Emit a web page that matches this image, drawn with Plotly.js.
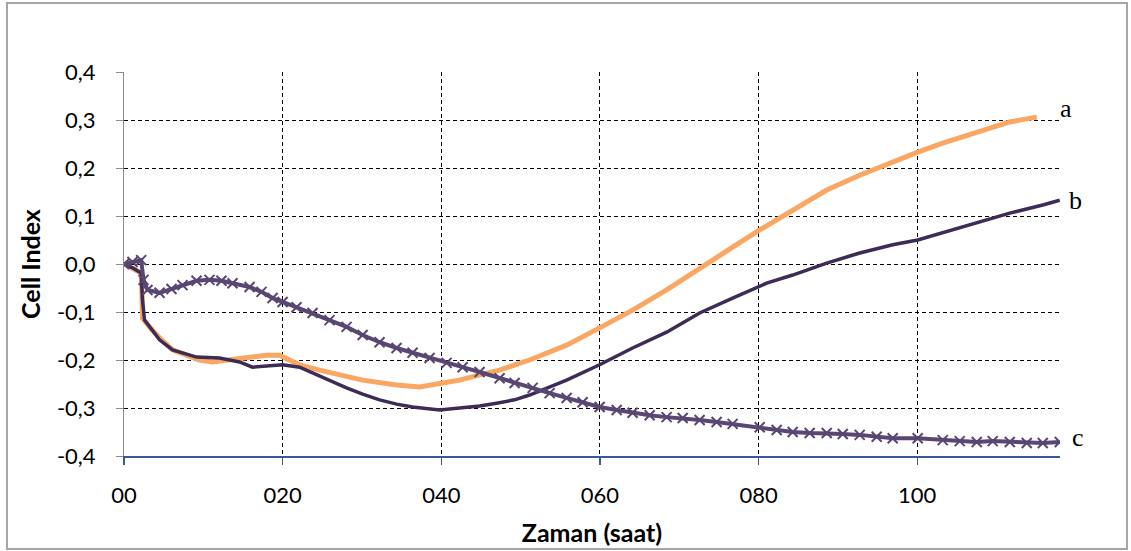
<!DOCTYPE html>
<html>
<head>
<meta charset="utf-8">
<script src="https://cdn.plot.ly/plotly-3.0.1.min.js"></script>
<style>
html,body{margin:0;padding:0;background:#fff;}
#chart{width:1131px;height:551px;}
</style>
</head>
<body>
<div id="chart"></div>
<script>
// Series a (orange)
const aX = [0,1.07,2.17,2.27,2.33,3.22,4.48,6.12,7.88,9.52,11.16,13.68,15.83,17.97,19.61,20.87,22.13,24.65,27.17,30.08,34.36,37.26,40.16,42.31,44.83,47.35,51.13,55.80,59.96,64.12,68.41,72.57,76.73,80.14,84.30,88.59,92.75,96.91,100.06,103.22,107.50,111.67,115.07];
const aY = [0,-0.008,-0.019,-0.065,-0.113,-0.131,-0.154,-0.179,-0.190,-0.200,-0.204,-0.198,-0.194,-0.190,-0.190,-0.200,-0.210,-0.221,-0.231,-0.242,-0.252,-0.256,-0.248,-0.242,-0.231,-0.221,-0.200,-0.169,-0.133,-0.096,-0.054,-0.008,0.035,0.071,0.113,0.154,0.185,0.213,0.233,0.252,0.275,0.296,0.306];
// Series b (dark)
const bX = [0,1.07,2.17,2.33,2.59,3.22,4.48,6.12,9.14,12.04,14.56,16.20,18.35,19.99,22.13,23.77,25.91,28.06,30.08,32.22,34.36,36.38,39.78,42.69,44.83,46.97,49.24,51.13,55.80,59.96,64.12,68.41,72.57,76.73,81.02,84.30,88.59,92.75,96.91,100.06,103.22,107.50,111.67,115.83,117.97];
const bY = [0,-0.008,-0.019,-0.075,-0.117,-0.131,-0.158,-0.179,-0.194,-0.196,-0.204,-0.215,-0.213,-0.210,-0.215,-0.227,-0.244,-0.258,-0.271,-0.283,-0.292,-0.298,-0.304,-0.300,-0.296,-0.290,-0.283,-0.273,-0.242,-0.210,-0.175,-0.142,-0.102,-0.071,-0.040,-0.023,0.002,0.023,0.040,0.050,0.065,0.085,0.106,0.123,0.133];
// Series c (purple, x markers)
const cX = [0,1.07,2.17,2.46,2.96,4.48,5.99,7.38,9.14,10.78,12.29,13.68,15.83,17.34,18.73,19.99,21.75,23.77,25.91,28.06,30.08,32.22,34.36,36.38,38.52,40.67,42.69,44.83,47.35,49.24,51.51,53.66,55.80,57.82,59.96,62.11,64.12,66.27,68.41,70.43,72.57,74.71,76.73,80.14,82.28,84.30,86.44,88.59,90.61,92.75,94.89,96.91,100.06,103.22,105.36,107.50,109.52,111.67,113.81,115.83,117.97];
const cY = [0,0.004,0.008,-0.033,-0.054,-0.060,-0.052,-0.044,-0.035,-0.033,-0.035,-0.040,-0.048,-0.058,-0.071,-0.079,-0.090,-0.102,-0.117,-0.131,-0.148,-0.163,-0.175,-0.185,-0.196,-0.206,-0.215,-0.225,-0.238,-0.248,-0.258,-0.269,-0.279,-0.288,-0.298,-0.304,-0.310,-0.315,-0.319,-0.321,-0.325,-0.329,-0.333,-0.340,-0.346,-0.350,-0.352,-0.352,-0.354,-0.356,-0.360,-0.363,-0.363,-0.367,-0.369,-0.371,-0.369,-0.371,-0.373,-0.373,-0.371];

const seriesLabels = ["a","b","c"];
const xTickVals = [0,20,40,60,80,100];
const xTickText = ["00","020","040","060","080","100"];
const yTickVals = [-0.4,-0.3,-0.2,-0.1,0,0.1,0.2,0.3,0.4];
const yTickText = ["-0,4","-0,3","-0,2","-0,1","0,0","0,1","0,2","0,3","0,4"];

const colA = "#FAA764", colB = "#3D2C55", colC = "#594673";

const traces = [
  {x:aX, y:aY, type:"scatter", mode:"lines", line:{color:colA, width:5}, name:"a"},
  {x:bX, y:bY, type:"scatter", mode:"lines", line:{color:colB, width:3.5}, name:"b"},
  {x:cX, y:cY, type:"scatter", mode:"lines+markers", line:{color:colC, width:4},
   marker:{symbol:"x-thin", size:10, line:{color:colC, width:2}}, name:"c"}
];

const ml = 124, mr = 71, mt = 72, mb = 95, W = 1131, H = 551;
const pw = W - ml - mr, ph = H - mt - mb;
const px = v => (v - ml) / pw;
const py = v => (H - mb - v) / ph;

const last = arr => arr[arr.length - 1];
const ends = [[aX, aY, 29, 9], [bX, bY, 16, 0], [cX, cY, 18, 5]];
const annotations = ends.map((e, i) => ({
  x: last(e[0]), y: last(e[1]), xref: "x", yref: "y", text: seriesLabels[i],
  showarrow: false, xanchor: "center", yanchor: "middle", xshift: e[2], yshift: e[3],
  font: {family: "Liberation Serif, Times New Roman, serif", size: 26, color: "#000"}
}));

const layout = {
  width: W, height: H,
  margin: {l: ml, r: mr, t: mt, b: mb, pad: 0},
  paper_bgcolor: "#fff", plot_bgcolor: "#fff",
  showlegend: false,
  font: {family: "Lato, Liberation Sans, sans-serif", size: 22, color: "#000"},
  xaxis: {
    range: [0, 118], tickvals: xTickVals, ticktext: xTickText,
    showgrid: true, gridcolor: "#000", gridwidth: 1, griddash: "4px,3px",
    zeroline: false, showline: true, linecolor: "#3A5A96", linewidth: 1.5,
    ticks: "outside", ticklen: 7, tickcolor: "#3A5A96", tickwidth: 1.2,
    ticklabelstandoff: 12,
    title: {text: "Zaman (saat)", font: {family: "Lato, Liberation Sans, sans-serif", size: 25, weight: "bold"}, standoff: 17}
  },
  yaxis: {
    range: [-0.4, 0.4], tickvals: yTickVals, ticktext: yTickText,
    showgrid: true, gridcolor: "#000", gridwidth: 1, griddash: "4px,3px",
    zeroline: false, showline: true, linecolor: "#8C8C8C", linewidth: 1,
    ticks: "outside", ticklen: 7, tickcolor: "#8C8C8C", tickwidth: 1,
    ticklabelstandoff: 16,
    title: {text: "Cell Index", font: {family: "Lato, Liberation Sans, sans-serif", size: 25, weight: "bold"}, standoff: 9}
  },
  annotations: annotations,
  shapes: [{
    type: "rect", xref: "paper", yref: "paper", layer: "below",
    x0: px(7), x1: px(1127), y0: py(549), y1: py(3),
    line: {color: "#A6A6A6", width: 2}, fillcolor: "rgba(0,0,0,0)"
  }]
};

Plotly.newPlot("chart", traces, layout, {displayModeBar: false, staticPlot: true});
</script>
</body>
</html>
